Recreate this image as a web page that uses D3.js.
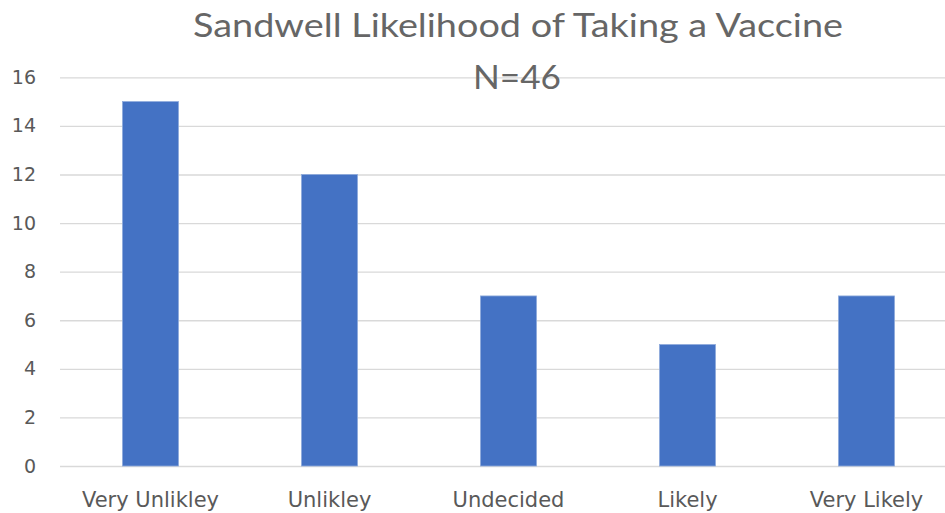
<!DOCTYPE html>
<html>
<head>
<meta charset="utf-8">
<script src="https://cdn.jsdelivr.net/npm/d3@7"></script>
<style>
  html, body { margin: 0; padding: 0; background: #fff; }
  svg { display: block; font-family: "DejaVu Sans", sans-serif; }
</style>
</head>
<body>
<svg id="chart" width="945" height="513"></svg>
<script>
// Survey responses: likelihood of taking a vaccine
const categories = ["Very Unlikley", "Unlikley", "Undecided", "Likely", "Very Likely"];
const counts = [15, 12, 7, 5, 7];
const yTicks = [0, 2, 4, 6, 8, 10, 12, 14, 16];
const titleLines = ["Sandwell Likelihood of Taking a Vaccine", "N=46"];

const svg = d3.select("#chart");
const W = 945, H = 513;
svg.append("rect").attr("width", W).attr("height", H).attr("fill", "#fff");

const x = d3.scaleBand()
  .domain(categories)
  .range([61, 956])
  .paddingInner(0.687)
  .paddingOuter(0.3435);

const y = d3.scaleLinear().domain([0, 16]).range([466, 77.3]);

// horizontal gridlines with value labels
const yAxis = d3.axisLeft(y)
  .tickValues(yTicks)
  .tickSize(-(945 - 60))
  .tickPadding(24)
  .tickFormat(d3.format("d"));

const gy = svg.append("g").attr("transform", "translate(60,0)").call(yAxis);
gy.select(".domain").remove();
gy.selectAll(".tick line").attr("stroke", "#d9d9d9").attr("stroke-width", 1.3);
gy.selectAll(".tick text")
  .attr("fill", "#595959")
  .attr("font-size", 19)
  .attr("font-family", "'DejaVu Sans', sans-serif");

// bars
svg.append("g").selectAll("rect")
  .data(counts)
  .join("rect")
  .attr("x", (d, i) => x(categories[i]))
  .attr("y", d => y(d))
  .attr("width", x.bandwidth())
  .attr("height", d => y(0) - y(d))
  .attr("fill", "#4472c4")
  .attr("stroke", "#8eaadb")
  .attr("stroke-width", 0.8);

// category labels
const xAxis = d3.axisBottom(x).tickSize(0).tickPadding(26);
const gx = svg.append("g").attr("transform", `translate(0,${y(0)})`).call(xAxis);
gx.select(".domain").remove();
gx.selectAll(".tick text")
  .attr("fill", "#595959")
  .attr("font-size", 21)
  .attr("font-family", "'DejaVu Sans', sans-serif");

// title, two lines
svg.append("text")
  .attr("x", 518).attr("y", 37)
  .attr("text-anchor", "middle")
  .attr("fill", "#666")
  .attr("font-size", 32)
  .attr("font-family", "Lato, sans-serif")
  .attr("textLength", 650)
  .attr("lengthAdjust", "spacingAndGlyphs")
  .text(titleLines[0]);
svg.append("text")
  .attr("x", 517).attr("y", 89)
  .attr("text-anchor", "middle")
  .attr("fill", "#666")
  .attr("font-size", 32)
  .attr("font-family", "Lato, sans-serif")
  .attr("textLength", 88)
  .attr("lengthAdjust", "spacingAndGlyphs")
  .text(titleLines[1]);
</script>
</body>
</html>
